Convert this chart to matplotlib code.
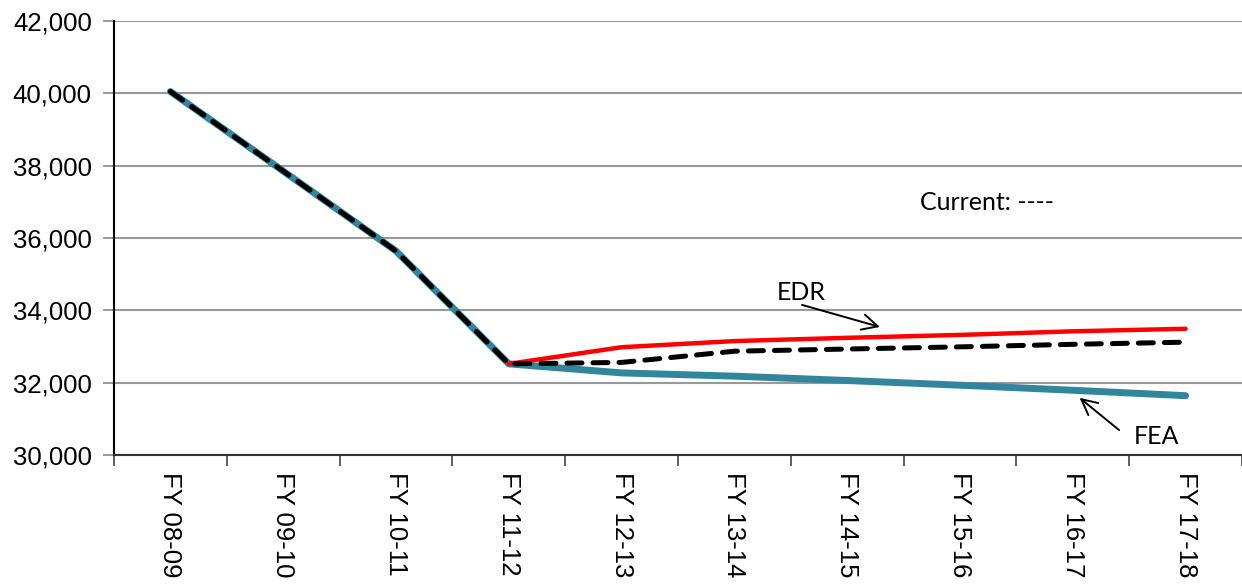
import matplotlib.pyplot as plt
import numpy as np

# ---------------- data ----------------
years = ['FY 08-09', 'FY 09-10', 'FY 10-11', 'FY 11-12', 'FY 12-13',
         'FY 13-14', 'FY 14-15', 'FY 15-16', 'FY 16-17', 'FY 17-18']
fea = [40050, 37850, 35640, 32520, 32270, 32180, 32060, 31930, 31790, 31640]
current = [40050, 37850, 35640, 32520, 32560, 32870, 32930, 32990, 33060, 33120]
edr = [None, None, None, 32520, 32980, 33150, 33240, 33320, 33420, 33490]

plt.rcParams['font.family'] = ['Liberation Sans', 'DejaVu Sans']

fig = plt.figure(figsize=(12.42, 5.85), dpi=100)
ax = fig.add_axes([114 / 1242, 1 - 455 / 585, 1 - 114 / 1242, (455 - 21) / 585])

x = np.arange(len(years))
edr_x = [i for i, v in enumerate(edr) if v is not None]
edr_y = [v for v in edr if v is not None]

ax.plot(x, fea, color='#31859C', lw=5, solid_capstyle='round', zorder=3)
ax.plot(edr_x, edr_y, color='#FF0000', lw=3.2, solid_capstyle='round', zorder=4)
ax.plot(x, current, color='black', lw=3.6, ls=(0, (3, 2.2)), dash_capstyle='round', zorder=5)

# ------ axes -------
ax.set_xlim(-0.5, len(years) - 0.5)
ax.set_ylim(30000, 42000)
ax.set_yticks(np.arange(30000, 42001, 2000))
ax.set_yticklabels([f'{v:,}' for v in range(30000, 42001, 2000)], fontsize=18.5)
ax.set_xticks(x)
ax.set_xticklabels(years, rotation=-90, fontsize=18.5, va='top', ha='center')
ax.set_xticks(np.arange(-0.5, len(years)), minor=True)
ax.tick_params(axis='x', which='major', length=0, pad=12)
ax.tick_params(axis='x', which='minor', length=8, color='#444444', width=1.2)
ax.tick_params(axis='y', length=8, color='#888888', width=1.2, pad=8)

ax.grid(axis='y', color='#999999', lw=1.5)
ax.set_axisbelow(True)
for s in ['top', 'right']:
    ax.spines[s].set_visible(False)
ax.spines['left'].set_linewidth(1.5)
ax.spines['bottom'].set_linewidth(1.5)
ax.spines['bottom'].set_color('#333333')

# ------ labels -------
arrow = dict(arrowstyle='->', lw=1.4, mutation_scale=28, shrinkA=0, shrinkB=0, color='black')
ax.text(7.24, 36970, 'Current: ----', fontsize=18, family='Lato', ha='center', va='center')
ax.text(5.59, 34480, 'EDR', fontsize=18, family='Lato', ha='center', va='center')
ax.annotate('', xy=(6.29, 33540), xytext=(5.60, 34150), arrowprops=arrow)
ax.text(8.74, 30500, 'FEA', fontsize=18, family='Lato', ha='center', va='center')
ax.annotate('', xy=(8.06, 31580), xytext=(8.41, 30690), arrowprops=arrow)

plt.savefig('out.png', dpi=100)
